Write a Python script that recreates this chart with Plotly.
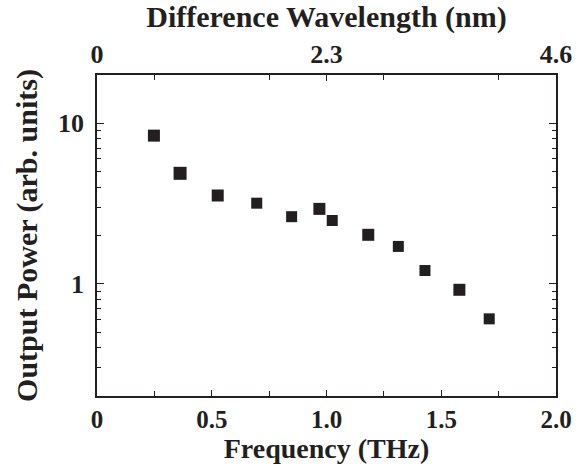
import plotly.graph_objects as go

# Data
freq_thz = [0.248, 0.362, 0.526, 0.696, 0.848, 0.969, 1.025, 1.182, 1.313, 1.429, 1.579, 1.709]
power = [8.38, 4.88, 3.55, 3.18, 2.62, 2.93, 2.48, 2.02, 1.71, 1.21, 0.918, 0.605]
marker_sizes = [12, 13, 12, 11, 11, 12, 11, 12, 11, 11, 12, 11]

bottom_tick_vals = [0, 0.5, 1.0, 1.5, 2.0]
bottom_tick_text = ["0", "0.5", "1.0", "1.5", "2.0"]
top_tick_vals = [0, 2.3, 4.6]
top_tick_text = ["0", "2.3", "4.6"]
y_tick_vals = [1, 10]
y_tick_text = ["1", "10"]
y_minor_vals = [0.3, 0.4, 0.5, 0.6, 0.7, 0.8, 0.9, 2, 3, 4, 5, 6, 7, 8, 9]

FONT = "Liberation Serif"
INK = "#231f20"

fig = go.Figure()
fig.add_trace(go.Scatter(
    x=freq_thz, y=power, mode="markers",
    marker=dict(symbol="square", size=marker_sizes, color=INK, opacity=1, line=dict(width=0)),
    showlegend=False, hoverinfo="x+y",
))
# invisible trace to carry the top axis
fig.add_trace(go.Scatter(x=[0, 4.6], y=[1, 1], xaxis="x2", mode="markers",
                         marker=dict(opacity=0), showlegend=False, hoverinfo="skip"))

tick_font = dict(family=FONT, size=26, color=INK, weight="bold")
title_font = dict(family=FONT, size=30, color=INK, weight="bold")
axis_common = dict(showgrid=False, zeroline=False, showline=True, linecolor=INK, linewidth=1.6,
                   ticks="inside", tickcolor=INK, tickwidth=1.3, automargin=False)

fig.update_layout(
    width=583, height=465,
    margin=dict(l=97, r=27, t=75, b=69),
    plot_bgcolor="white", paper_bgcolor="white",
    font=dict(family=FONT, color=INK),
    xaxis=dict(**axis_common, range=[0, 2.0], tickvals=bottom_tick_vals, ticktext=bottom_tick_text,
               ticklen=6, mirror=False, ticklabelstandoff=0,
               tickfont=dict(family=FONT, size=25, color=INK, weight="bold"),
               minor=dict(tickvals=[0.25, 0.75, 1.25, 1.75], ticks="inside", ticklen=5, tickcolor=INK, tickwidth=1.3),
               title=dict(text="Frequency (THz)", font=dict(family=FONT, size=28, color=INK, weight="bold"), standoff=0)),
    xaxis2=dict(**axis_common, overlaying="x", side="top", range=[0, 4.6], tickvals=top_tick_vals,
                ticktext=top_tick_text, ticklen=6, ticklabelstandoff=0, tickfont=tick_font,
                minor=dict(tickvals=[0.575, 1.725, 2.875, 4.025], ticks="inside", ticklen=5, tickcolor=INK, tickwidth=1.3),
                title=dict(text="Difference Wavelength (nm)", font=title_font, standoff=12)),
    yaxis=dict(**axis_common, type="log", range=[-0.69897, 1.30103], tickvals=y_tick_vals, ticktext=y_tick_text,
               ticklen=7, mirror="ticks", ticklabelstandoff=6, tickfont=tick_font,
               minor=dict(tickvals=y_minor_vals, ticks="inside", ticklen=4, tickcolor=INK, tickwidth=1.3),
               title=dict(text="Output Power (arb. units)", font=title_font, standoff=12)),
)

fig.write_html("out.html", config={"displayModeBar": False},
               post_script="document.body.style.margin='0';")
